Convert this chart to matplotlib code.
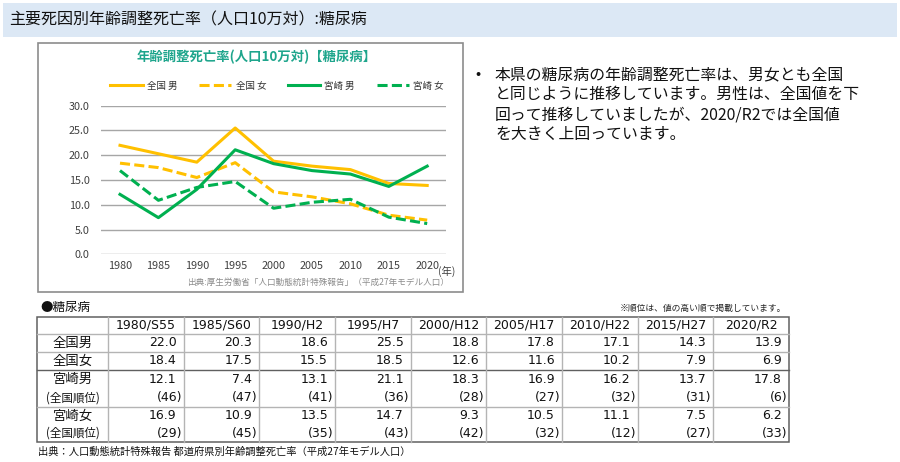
import matplotlib
matplotlib.use("Agg")
import matplotlib.pyplot as plt
from matplotlib.patches import Rectangle
from matplotlib.lines import Line2D

plt.rcParams['font.family'] = ['Noto Sans CJK JP', 'DejaVu Sans']

# ---------------- data ----------------
years = ['1980', '1985', '1990', '1995', '2000', '2005', '2010', '2015', '2020']
table_headers = ['1980/S55', '1985/S60', '1990/H2', '1995/H7', '2000/H12',
                 '2005/H17', '2010/H22', '2015/H27', '2020/R2']
national_male = [22.0, 20.3, 18.6, 25.5, 18.8, 17.8, 17.1, 14.3, 13.9]
national_female = [18.4, 17.5, 15.5, 18.5, 12.6, 11.6, 10.2, 7.9, 6.9]
miyazaki_male = [12.1, 7.4, 13.1, 21.1, 18.3, 16.9, 16.2, 13.7, 17.8]
miyazaki_female = [16.9, 10.9, 13.5, 14.7, 9.3, 10.5, 11.1, 7.5, 6.2]
miyazaki_male_rank = [46, 47, 41, 36, 28, 27, 32, 31, 6]
miyazaki_female_rank = [29, 45, 35, 43, 42, 32, 12, 27, 33]
series_labels = ['全国 男', '全国 女', '宮崎 男', '宮崎 女']
row_labels = ['全国男', '全国女', '宮崎男', '(全国順位)', '宮崎女', '(全国順位)']
y_ticks = [0, 5, 10, 15, 20, 25, 30]

W, H = 900, 462
fig = plt.figure(figsize=(W / 100, H / 100), dpi=100)


def fx(x):
    return x / W


def fy(y):
    return 1 - y / H


ORANGE = '#ffc000'
GREEN = '#00b050'
TEAL = '#1ea58c'

# ---------------- title bar ----------------
fig.patches.append(Rectangle((fx(3), fy(37)), fx(894), 34 / H, transform=fig.transFigure,
                             facecolor='#dce8f5', edgecolor='none', zorder=-2))
fig.text(fx(9), fy(20), '主要死因別年齢調整死亡率（人口10万対）:糖尿病', fontsize=11.5,
         va='center', ha='left', color='#111111')

# ---------------- chart frame ----------------
fig.patches.append(Rectangle((fx(38), fy(292)), (463 - 38) / W, (292 - 43) / H,
                             transform=fig.transFigure, facecolor='white',
                             edgecolor='#8c8c8c', linewidth=1.2, zorder=-1))
fig.text(fx(257), fy(57), '年齢調整死亡率(人口10万対)【糖尿病】', fontsize=9.6,
         fontweight='bold', color=TEAL, ha='center', va='center')

# ---------------- chart axes ----------------
ax_left, ax_right, ax_top, ax_bot = 100.8, 446.4, 105.7, 254.3
ax = fig.add_axes([fx(ax_left), fy(ax_bot), (ax_right - ax_left) / W, (ax_bot - ax_top) / H])
ax.set_zorder(2)
ax.set_facecolor('none')
x = list(range(len(years)))
dash = (3.3, 1.4)
ax.plot(x, national_male, color=ORANGE, lw=2.2, label=series_labels[0], zorder=3)
ax.plot(x, national_female, color=ORANGE, lw=2.2, ls=(0, dash), label=series_labels[1], zorder=3)
ax.plot(x, miyazaki_male, color=GREEN, lw=2.2, label=series_labels[2], zorder=4)
ax.plot(x, miyazaki_female, color=GREEN, lw=2.2, ls=(0, dash), label=series_labels[3], zorder=4)
ax.set_xlim(-0.5, len(years) - 0.5)
ax.set_ylim(0, 30)
ax.set_yticks(y_ticks)
ax.set_yticklabels([f'{v:.1f}' for v in y_ticks])
ax.set_xticks(x)
ax.set_xticklabels(years)
ax.grid(axis='y', color='#a6a6a6', lw=1.0)
ax.set_axisbelow(True)
for s in ax.spines.values():
    s.set_visible(False)
ax.tick_params(axis='both', length=0, labelsize=7.8, colors='#404040')
ax.tick_params(axis='y', pad=8)
ax.tick_params(axis='x', pad=5)
ax.legend(loc='center', bbox_to_anchor=(fx(277), fy(86)), bbox_transform=fig.transFigure,
          ncol=4, frameon=False, fontsize=6.8, handlelength=3.4, columnspacing=2.3,
          handletextpad=0.45, labelcolor='#333333')
fig.text(fx(438), fy(271), '(年)', fontsize=7.5, color='#404040', ha='left', va='center')
fig.text(fx(449), fy(282), '出典:厚生労働省「人口動態統計特殊報告」（平成27年モデル人口）',
         fontsize=6.2, color='#8c8c8c', ha='right', va='center')

# ---------------- comment text ----------------
fig.text(fx(475), fy(75), '•', fontsize=11, ha='left', va='center', color='#111111')
para = ['本県の糖尿病の年齢調整死亡率は、男女とも全国',
        'と同じように推移しています。男性は、全国値を下',
        '回って推移していましたが、2020/R2では全国値',
        'を大きく上回っています。']
for i, line in enumerate(para):
    fig.text(fx(495), fy(75 + i * 19.8), line, fontsize=11.4, ha='left', va='center',
             color='#111111')

# ---------------- table ----------------
fig.text(fx(40), fy(308), '●糖尿病', fontsize=9, ha='left', va='center', color='#111111')
fig.text(fx(786), fy(308), '※順位は、値の高い順で掲載しています。', fontsize=6.3,
         ha='right', va='center', color='#222222')

col_x = [37] + [108 + i * (789 - 108) / 9 for i in range(10)]
row_y = [317, 334, 352, 370, 388.5, 407, 424.5, 442]
light = '#b4b4b4'
dark = '#606060'


def hline(y, x0, x1, color, lw):
    fig.add_artist(Line2D([fx(x0), fx(x1)], [fy(y), fy(y)], transform=fig.transFigure,
                          color=color, lw=lw))


def vline(x0, y0, y1, color, lw):
    fig.add_artist(Line2D([fx(x0), fx(x0)], [fy(y0), fy(y1)], transform=fig.transFigure,
                          color=color, lw=lw))


for yy in [334, 352, 407]:
    hline(yy, col_x[0], col_x[-1], light, 1.0)
hline(370, col_x[0], col_x[-1], dark, 1.0)
for xx in col_x[1:-1]:
    vline(xx, row_y[0], row_y[-1], light, 1.0)
fig.patches.append(Rectangle((fx(col_x[0]), fy(row_y[-1])), (col_x[-1] - col_x[0]) / W,
                             (row_y[-1] - row_y[0]) / H, transform=fig.transFigure,
                             facecolor='none', edgecolor=dark, lw=1.1))

tfam = ['DejaVu Sans', 'Noto Sans CJK JP']
tfs = 9.0
for j, h in enumerate(table_headers):
    cx = (col_x[j + 1] + col_x[j + 2]) / 2
    fig.text(fx(cx), fy((row_y[0] + row_y[1]) / 2), h, fontsize=tfs, family=tfam,
             ha='center', va='center', color='#111111')

label_cx = (col_x[0] + col_x[1]) / 2
for i, lab in enumerate(row_labels):
    cy = (row_y[i + 1] + row_y[i + 2]) / 2
    fs = 9.6 if '順位' not in lab else 8.3
    fig.text(fx(label_cx), fy(cy), lab, fontsize=fs, ha='center', va='center',
             color='#111111')

value_rows = [national_male, national_female, miyazaki_male, None, miyazaki_female, None]
rank_rows = {3: miyazaki_male_rank, 5: miyazaki_female_rank}
for i in range(6):
    cy = (row_y[i + 1] + row_y[i + 2]) / 2
    for j in range(9):
        right = col_x[j + 2]
        if value_rows[i] is not None:
            fig.text(fx(right - 7), fy(cy), f'{value_rows[i][j]:.1f}', fontsize=tfs,
                     family=tfam, ha='right', va='center', color='#111111')
        else:
            fig.text(fx(right - 1.5), fy(cy), f'({rank_rows[i][j]})', fontsize=tfs,
                     family=tfam, ha='right', va='center', color='#111111')

fig.text(fx(38), fy(452), '出典：人口動態統計特殊報告 都道府県別年齢調整死亡率（平成27年モデル人口）',
         fontsize=7.4, ha='left', va='center', color='#111111')

fig.savefig('out.png', dpi=100)
